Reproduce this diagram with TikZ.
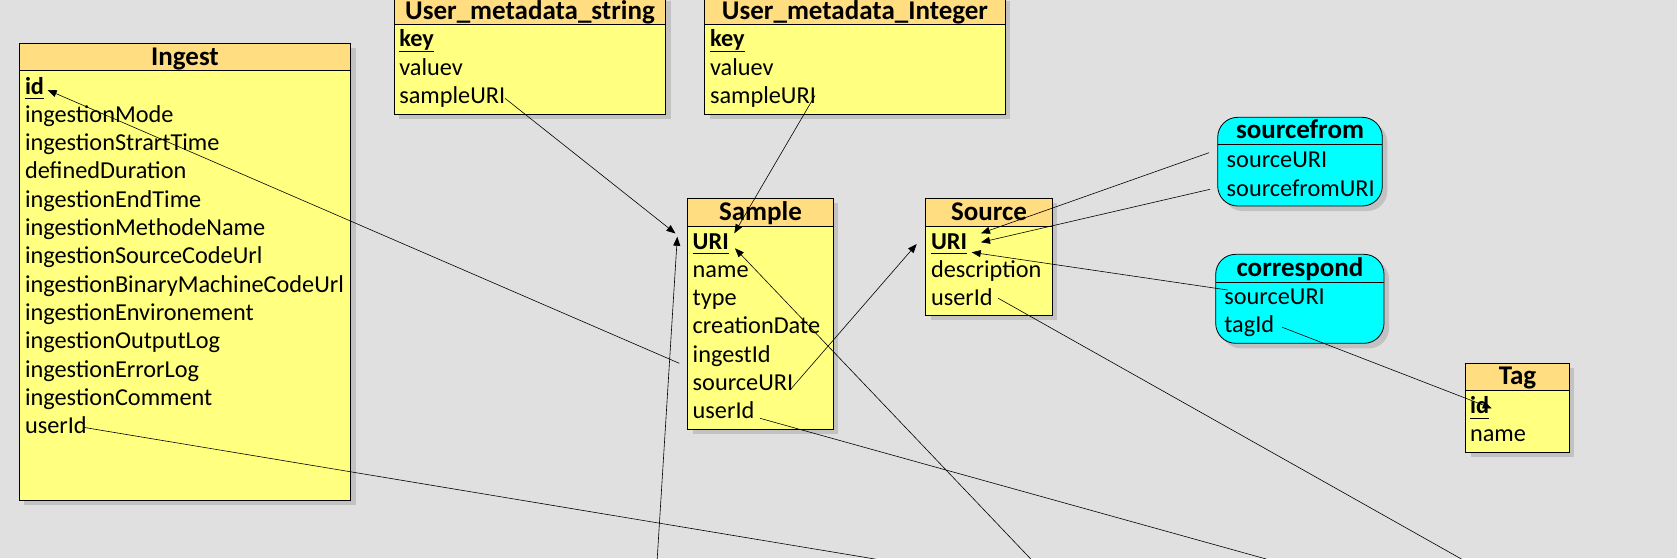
\documentclass[tikz,border=0pt]{standalone}
\usepackage{fontspec}
\setmainfont{Carlito}
\usetikzlibrary{arrows.meta}
\definecolor{bgc}{RGB}{224,224,224}
\definecolor{shc}{RGB}{194,194,194}
\definecolor{bodyc}{RGB}{255,255,128}
\definecolor{headc}{RGB}{255,221,128}
\definecolor{cyanc}{RGB}{0,255,255}
\newcommand\fldfont{\fontsize{24.3}{28}\selectfont}
\newcommand\ttlfont{\fontsize{27}{30}\selectfont\bfseries}
\tikzset{
  bord/.style={draw=black,line width=0.8pt},
  fld/.style={anchor=base west,inner sep=0pt,outer sep=0pt,font=\fldfont},
  keyfld/.style={fld,font=\fldfont\bfseries},
  ttl/.style={anchor=base,inner sep=0pt,outer sep=0pt,font=\ttlfont},
  uline/.style={draw=black,line width=1pt},
  conn/.style={draw=black,line width=0.6pt,-{Triangle[length=9pt,width=7pt]}},
  plainconn/.style={draw=black,line width=0.6pt}
}
\newcommand\ytbl[5]{%
  \fill[shc] (#1+5,#2+5) rectangle (#3+5,#4+5);
  \fill[bodyc] (#1,#2) rectangle (#3,#4);
  \fill[headc] (#1,#2) rectangle (#3,#5);
  \draw[bord] (#1,#5) -- (#3,#5);
  \draw[bord] (#1,#2) rectangle (#3,#4);}
\newcommand\ctbl[5]{%
  \fill[shc,rounded corners=20pt] (#1+5,#2+5) rectangle (#3+5,#4+5);
  \draw[bord,fill=cyanc,rounded corners=20pt] (#1,#2) rectangle (#3,#4);
  \draw[bord] (#1,#5) -- (#3,#5);}
\newcommand\ul[1]{\draw[uline] ([yshift=-4.8pt]#1.base west) -- ([yshift=-4.8pt]#1.base east);}
\begin{document}
\begin{tikzpicture}[x=1pt,y=-1pt]
\useasboundingbox (0,0) rectangle (1677,558);
\clip (0,0) rectangle (1677,558);
\fill[bgc] (0,0) rectangle (1677,558);

% ---------- Ingest ----------
\ytbl{19.3}{43.3}{350.7}{500}{70.7}
\node[ttl] (ing-t) at (185,65) {Ingest};
\node[keyfld] (ing-id) at (25,94) {id};
\ul{ing-id}
\node[fld] (ing-f1) at (25,122.3) {ingestionMode};
\node[fld] (ing-f2) at (25,150.6) {ingestionStrartTime};
\node[fld] (ing-f3) at (25,178.9) {definedDuration};
\node[fld] (ing-f4) at (25,207.2) {ingestionEndTime};
\node[fld] (ing-f5) at (25,235.5) {ingestionMethodeName};
\node[fld] (ing-f6) at (25,263.8) {ingestionSourceCodeUrl};
\node[fld] (ing-f7) at (25,292.1) {ingestionBinaryMachineCodeUrl};
\node[fld] (ing-f8) at (25,320.4) {ingestionEnvironement};
\node[fld] (ing-f9) at (25,348.7) {ingestionOutputLog};
\node[fld] (ing-f10) at (25,377) {ingestionErrorLog};
\node[fld] (ing-f11) at (25,405.3) {ingestionComment};
\node[fld] (ing-f12) at (25,433.6) {userId};

% ---------- User_metadata_string ----------
\ytbl{394.3}{-4}{665.7}{114.3}{24}
\node[ttl] (ums-t) at (530,19.3) {User\_metadata\_string};
\node[keyfld] (ums-key) at (399.3,46.7) {key};
\ul{ums-key}
\node[fld] (ums-v) at (399.3,75) {valuev};
\node[fld] (ums-s) at (399.3,103.3) {sampleURI};

% ---------- User_metadata_Integer ----------
\ytbl{704.8}{-4}{1005.3}{114.3}{24}
\node[ttl] (umi-t) at (855,19.3) {User\_metadata\_Integer};
\node[keyfld] (umi-key) at (710,46.7) {key};
\ul{umi-key}
\node[fld] (umi-v) at (710,75) {valuev};
\node[fld] (umi-s) at (710,103.3) {sampleURI};

% ---------- Sample ----------
\ytbl{687.7}{198.3}{833.3}{429}{226}
\node[ttl] (smp-t) at (760.5,220.5) {Sample};
\node[keyfld] (smp-uri) at (692.7,249) {URI};
\ul{smp-uri}
\node[fld] (smp-f1) at (692.7,277.3) {name};
\node[fld] (smp-f2) at (692.7,305.6) {type};
\node[fld] (smp-f3) at (692.7,333.9) {creationDate};
\node[fld] (smp-f4) at (692.7,362.2) {ingestId};
\node[fld] (smp-f5) at (692.7,390.5) {sourceURI};
\node[fld] (smp-f6) at (692.7,418.8) {userId};

% ---------- Source ----------
\ytbl{925.7}{198.3}{1052.3}{315}{226}
\node[ttl] (src-t) at (989,220.5) {Source};
\node[keyfld] (src-uri) at (931,249) {URI};
\ul{src-uri}
\node[fld] (src-f1) at (931,277.3) {description};
\node[fld] (src-f2) at (931,305.6) {userId};

% ---------- sourcefrom ----------
\ctbl{1217.7}{117.3}{1382.3}{206}{144.3}
\node[ttl] (sf-t) at (1300,138.5) {sourcefrom};
\node[fld] (sf-f1) at (1226.7,167.7) {sourceURI};
\node[fld] (sf-f2) at (1226.7,196) {sourcefromURI};

% ---------- correspond ----------
\ctbl{1215.7}{254.3}{1384}{343.3}{282.3}
\node[ttl] (cr-t) at (1300,276.5) {correspond};
\node[fld] (cr-f1) at (1224.3,304.5) {sourceURI};
\node[fld] (cr-f2) at (1224.3,332.5) {tagId};

% ---------- Tag ----------
\ytbl{1465.7}{363.3}{1569.3}{452.3}{390.3}
\node[ttl] (tag-t) at (1517.5,384.5) {Tag};
\node[keyfld] (tag-id) at (1470,413.3) {id};
\ul{tag-id}
\node[fld] (tag-f1) at (1470,441.7) {name};

% ---------- connector end points ----------
\coordinate (p-smp-ingest) at (679.3,363.3);
\coordinate (p-ing-id) at (47.7,90);
\coordinate (p-ums-s) at (505,98.3);
\coordinate (p-smp-uri-l1) at (675.5,233.5);
\coordinate (p-umi-s) at (815,95.5);
\coordinate (p-smp-uri-r1) at (734.3,233.3);
\coordinate (p-bot1) at (656.2,575);
\coordinate (p-smp-uri-l2) at (677.3,236.7);
\coordinate (p-smp-src) at (790,390);
\coordinate (p-src-uri-l) at (916.7,244);
\coordinate (p-bot2) at (1046,575);
\coordinate (p-smp-uri-r2) at (735,248.3);
\coordinate (p-smp-user) at (760,418.3);
\coordinate (p-bot3) at (1323.7,575);
\coordinate (p-ing-user) at (83.3,427.3);
\coordinate (p-bot4) at (971,575);
\coordinate (p-src-user) at (998.3,298.3);
\coordinate (p-bot5) at (1489.8,575);
\coordinate (p-sf-1) at (1209,152.7);
\coordinate (p-src-uri-r1) at (981,233.3);
\coordinate (p-sf-2) at (1210,189.3);
\coordinate (p-src-uri-r2) at (981,242.3);
\coordinate (p-cr-1) at (1227.7,290);
\coordinate (p-src-uri-r3) at (971.7,252.3);
\coordinate (p-cr-2) at (1282.3,327.3);
\coordinate (p-tag-id) at (1491.7,408.3);

% ---------- connectors ----------
\draw[conn] (p-smp-ingest) -- (p-ing-id);
\draw[conn] (p-ums-s) -- (p-smp-uri-l1);
\draw[conn] (p-umi-s) -- (p-smp-uri-r1);
\draw[conn] (p-bot1) -- (p-smp-uri-l2);
\draw[conn] (p-smp-src) -- (p-src-uri-l);
\draw[conn] (p-bot2) -- (p-smp-uri-r2);
\draw[plainconn] (p-smp-user) -- (p-bot3);
\draw[plainconn] (p-ing-user) -- (p-bot4);
\draw[plainconn] (p-src-user) -- (p-bot5);
\draw[conn] (p-sf-1) -- (p-src-uri-r1);
\draw[conn] (p-sf-2) -- (p-src-uri-r2);
\draw[conn] (p-cr-1) -- (p-src-uri-r3);
\draw[conn] (p-cr-2) -- (p-tag-id);
\end{tikzpicture}
\end{document}
